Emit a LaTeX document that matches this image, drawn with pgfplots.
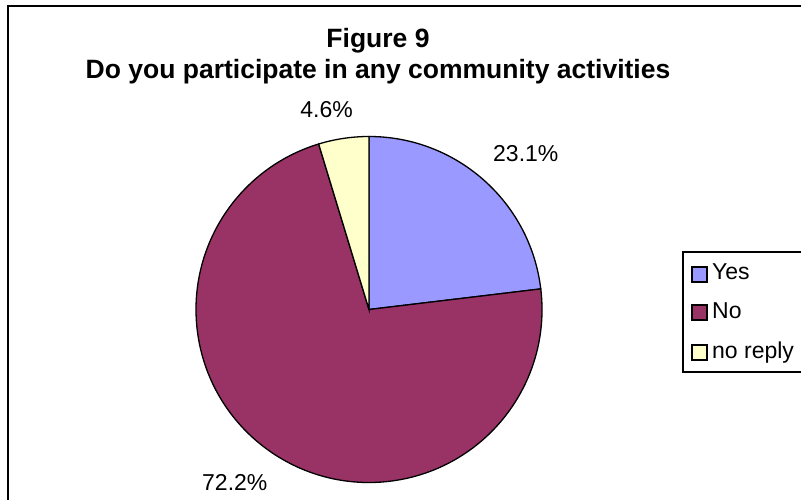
\documentclass[border=0pt]{standalone}
\usepackage{pgfplots}
\usepackage{pgfplotstable}
\pgfplotsset{compat=1.18}
\usepackage{fontspec}
\setmainfont{Liberation Sans}
\definecolor{yescol}{HTML}{9999FF}
\definecolor{nocol}{HTML}{993366}
\definecolor{nrcol}{HTML}{FFFFCC}
\pgfplotstableread{
label value
Yes 23.1
No 72.2
noreply 4.6
}\piedata
\begin{document}
\begin{tikzpicture}[x=1pt,y=1pt]
\useasboundingbox (0,0) rectangle (801,499);
\clip (0,0) rectangle (801,499);
\pgfplotstablegetelem{0}{value}\of\piedata \let\vYes\pgfplotsretval
\pgfplotstablegetelem{1}{value}\of\piedata \let\vNo\pgfplotsretval
\pgfplotstablegetelem{2}{value}\of\piedata \let\vNR\pgfplotsretval
\pgfmathsetmacro{\aA}{90-3.6*\vYes}
\pgfmathsetmacro{\aB}{\aA-3.6*\vNo}
\begin{axis}[
  at={(0,0)}, anchor=south west,
  width=801pt, height=499pt, scale only axis,
  xmin=0, xmax=801, ymin=0, ymax=499,
  hide axis, clip=false,
]
% pie slices
\fill[yescol, draw=black, line width=1.3pt] (axis cs:369,189.5) -- ++(90:173) arc[start angle=90, end angle=\aA, radius=173] -- cycle;
\fill[nocol, draw=black, line width=1.3pt] (axis cs:369,189.5) -- ++(\aA:173) arc[start angle=\aA, end angle=\aB, radius=173] -- cycle;
\fill[nrcol, draw=black, line width=1.3pt] (axis cs:369,189.5) -- ++(\aB:173) arc[start angle=\aB, end angle=-270, radius=173] -- cycle;
% data labels
\node[anchor=base west, inner sep=0, font=\fontsize{23}{27}\selectfont] at (axis cs:493,337) {23.1\%};
\node[anchor=base west, inner sep=0, font=\fontsize{23}{27}\selectfont] at (axis cs:202,9) {72.2\%};
\node[anchor=base east, inner sep=0, font=\fontsize{23}{27}\selectfont] at (axis cs:353,381) {4.6\%};
% title
\node[anchor=base, inner sep=0, font=\bfseries\fontsize{26.5}{30}\selectfont] at (axis cs:378,451) {Figure 9};
\node[anchor=base, inner sep=0, font=\bfseries\fontsize{26.5}{30}\selectfont] at (axis cs:378,420) {Do you participate in any community activities};
% legend
\draw[black, line width=1.2pt] (axis cs:683,247) rectangle (axis cs:815,127);
\draw[black, line width=1.2pt, fill=yescol] (axis cs:692,217) rectangle (axis cs:707,232);
\draw[black, line width=1.2pt, fill=nocol] (axis cs:692,179) rectangle (axis cs:707,194);
\draw[black, line width=1.2pt, fill=nrcol] (axis cs:692,139) rectangle (axis cs:707,154);
\node[anchor=base west, inner sep=0, font=\fontsize{23}{27}\selectfont] at (axis cs:712,219) {Yes};
\node[anchor=base west, inner sep=0, font=\fontsize{23}{27}\selectfont] at (axis cs:712,181) {No};
\node[anchor=base west, inner sep=0, font=\fontsize{23}{27}\selectfont] at (axis cs:712,141) {no reply};
\end{axis}
% chart border
\draw[black, line width=1.5pt] (8,-20) -- (8,493) -- (830,493);
\end{tikzpicture}
\end{document}
